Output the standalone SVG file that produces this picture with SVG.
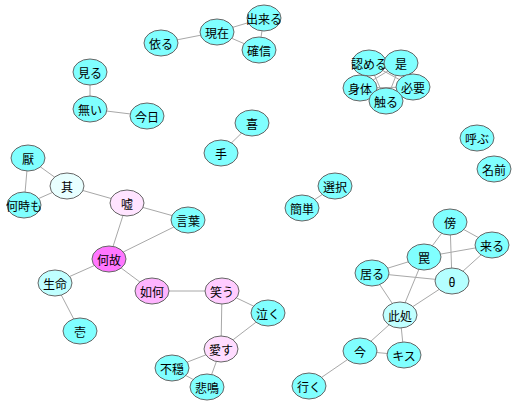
<svg xmlns="http://www.w3.org/2000/svg" width="520" height="406" viewBox="0 0 520 406">
<style>
.e line{stroke:#a8a8a8;stroke-width:1}
.n ellipse{stroke:#666;stroke-width:1;fill:#80ffff}
.n text{font-family:"Noto Sans CJK JP","DejaVu Sans",sans-serif;font-size:12px;fill:#000;text-anchor:middle;dominant-baseline:central}
</style>
<rect width="520" height="406" fill="#fff"/>
<g id="edges" class="e">
<line x1="161" y1="43" x2="217" y2="32"/>
<line x1="217" y1="32" x2="264" y2="18"/>
<line x1="217" y1="32" x2="259" y2="50"/>
<line x1="264" y1="18" x2="259" y2="50"/>
<line x1="90" y1="72" x2="90" y2="109"/>
<line x1="90" y1="109" x2="147" y2="116"/>
<line x1="369" y1="63" x2="401" y2="63"/>
<line x1="369" y1="63" x2="413" y2="87"/>
<line x1="369" y1="63" x2="386" y2="101"/>
<line x1="369" y1="63" x2="360" y2="88"/>
<line x1="401" y1="63" x2="413" y2="87"/>
<line x1="401" y1="63" x2="386" y2="101"/>
<line x1="401" y1="63" x2="360" y2="88"/>
<line x1="413" y1="87" x2="386" y2="101"/>
<line x1="413" y1="87" x2="360" y2="88"/>
<line x1="386" y1="101" x2="360" y2="88"/>
<line x1="28" y1="158" x2="67" y2="186"/>
<line x1="28" y1="158" x2="24" y2="205"/>
<line x1="67" y1="186" x2="24" y2="205"/>
<line x1="67" y1="186" x2="127" y2="203"/>
<line x1="127" y1="203" x2="188" y2="220"/>
<line x1="127" y1="203" x2="109" y2="259"/>
<line x1="109" y1="259" x2="188" y2="220"/>
<line x1="109" y1="259" x2="55" y2="283"/>
<line x1="109" y1="259" x2="152" y2="291"/>
<line x1="55" y1="283" x2="80" y2="331"/>
<line x1="152" y1="291" x2="222" y2="291"/>
<line x1="222" y1="291" x2="268" y2="313"/>
<line x1="222" y1="291" x2="221" y2="349"/>
<line x1="268" y1="313" x2="221" y2="349"/>
<line x1="221" y1="349" x2="172" y2="368"/>
<line x1="221" y1="349" x2="207" y2="387"/>
<line x1="172" y1="368" x2="207" y2="387"/>
<line x1="252" y1="123" x2="221" y2="153"/>
<line x1="335" y1="186" x2="302" y2="208"/>
<line x1="450" y1="222" x2="424" y2="257"/>
<line x1="450" y1="222" x2="492" y2="245"/>
<line x1="450" y1="222" x2="452" y2="281"/>
<line x1="424" y1="257" x2="492" y2="245"/>
<line x1="424" y1="257" x2="372" y2="273"/>
<line x1="424" y1="257" x2="400" y2="315"/>
<line x1="372" y1="273" x2="452" y2="281"/>
<line x1="492" y1="245" x2="452" y2="281"/>
<line x1="372" y1="273" x2="400" y2="315"/>
<line x1="452" y1="281" x2="400" y2="315"/>
<line x1="400" y1="315" x2="360" y2="351"/>
<line x1="400" y1="315" x2="404" y2="355"/>
<line x1="360" y1="351" x2="404" y2="355"/>
<line x1="360" y1="351" x2="309" y2="386"/>
</g>
<g id="n_yoru" class="n"><ellipse cx="161" cy="43" rx="17" ry="13"/><text x="161" y="43">依る</text></g>
<g id="n_genzai" class="n"><ellipse cx="217" cy="32" rx="17" ry="13"/><text x="217" y="32">現在</text></g>
<g id="n_dekiru" class="n"><ellipse cx="264" cy="18" rx="17" ry="13"/><text x="264" y="18">出来る</text></g>
<g id="n_kakushin" class="n"><ellipse cx="259" cy="50" rx="17" ry="13"/><text x="259" y="50">確信</text></g>
<g id="n_miru" class="n"><ellipse cx="90" cy="72" rx="17" ry="13"/><text x="90" y="72">見る</text></g>
<g id="n_nai" class="n"><ellipse cx="90" cy="109" rx="17" ry="13"/><text x="90" y="109">無い</text></g>
<g id="n_kyou" class="n"><ellipse cx="147" cy="116" rx="17" ry="13"/><text x="147" y="116">今日</text></g>
<g id="n_mitomeru" class="n"><ellipse cx="369" cy="63" rx="17" ry="13"/><text x="369" y="63">認める</text></g>
<g id="n_ze" class="n"><ellipse cx="401" cy="63" rx="17" ry="13"/><text x="401" y="63">是</text></g>
<g id="n_shintai" class="n"><ellipse cx="360" cy="88" rx="17" ry="13"/><text x="360" y="88">身体</text></g>
<g id="n_hitsuyou" class="n"><ellipse cx="413" cy="87" rx="17" ry="13"/><text x="413" y="87">必要</text></g>
<g id="n_sawaru" class="n"><ellipse cx="386" cy="101" rx="17" ry="13"/><text x="386" y="101">触る</text></g>
<g id="n_yobu" class="n"><ellipse cx="477" cy="138" rx="17" ry="13"/><text x="477" y="138">呼ぶ</text></g>
<g id="n_namae" class="n"><ellipse cx="494" cy="169" rx="17" ry="13"/><text x="494" y="169">名前</text></g>
<g id="n_yorokobi" class="n"><ellipse cx="252" cy="123" rx="17" ry="13"/><text x="252" y="123">喜</text></g>
<g id="n_te" class="n"><ellipse cx="221" cy="153" rx="17" ry="13"/><text x="221" y="153">手</text></g>
<g id="n_sentaku" class="n"><ellipse cx="335" cy="186" rx="17" ry="13"/><text x="335" y="186">選択</text></g>
<g id="n_kantan" class="n"><ellipse cx="302" cy="208" rx="17" ry="13"/><text x="302" y="208">簡単</text></g>
<g id="n_iya" class="n"><ellipse cx="28" cy="158" rx="17" ry="13"/><text x="28" y="158">厭</text></g>
<g id="n_sore" class="n"><ellipse cx="67" cy="186" rx="17" ry="13" style="fill:#e8ffff"/><text x="67" y="186">其</text></g>
<g id="n_itsumo" class="n"><ellipse cx="24" cy="205" rx="17" ry="13"/><text x="24" y="205">何時も</text></g>
<g id="n_uso" class="n"><ellipse cx="127" cy="203" rx="17" ry="13" style="fill:#ffe4ff"/><text x="127" y="203">嘘</text></g>
<g id="n_kotoba" class="n"><ellipse cx="188" cy="220" rx="17" ry="13"/><text x="188" y="220">言葉</text></g>
<g id="n_naze" class="n"><ellipse cx="109" cy="259" rx="17" ry="13" style="fill:#ff77ff"/><text x="109" y="259">何故</text></g>
<g id="n_seimei" class="n"><ellipse cx="55" cy="283" rx="17" ry="13" style="fill:#c0ffff"/><text x="55" y="283">生命</text></g>
<g id="n_ichi" class="n"><ellipse cx="80" cy="331" rx="17" ry="13"/><text x="80" y="331">壱</text></g>
<g id="n_ikaga" class="n"><ellipse cx="152" cy="291" rx="17" ry="13" style="fill:#ffb4ff"/><text x="152" y="291">如何</text></g>
<g id="n_warau" class="n"><ellipse cx="222" cy="291" rx="17" ry="13" style="fill:#ffccff"/><text x="222" y="291">笑う</text></g>
<g id="n_naku" class="n"><ellipse cx="268" cy="313" rx="17" ry="13"/><text x="268" y="313">泣く</text></g>
<g id="n_aisu" class="n"><ellipse cx="221" cy="349" rx="17" ry="13" style="fill:#ffdcff"/><text x="221" y="349">愛す</text></g>
<g id="n_fuon" class="n"><ellipse cx="172" cy="368" rx="17" ry="13"/><text x="172" y="368">不穏</text></g>
<g id="n_himei" class="n"><ellipse cx="207" cy="387" rx="17" ry="13"/><text x="207" y="387">悲鳴</text></g>
<g id="n_soba" class="n"><ellipse cx="450" cy="222" rx="17" ry="13"/><text x="450" y="222">傍</text></g>
<g id="n_kuru" class="n"><ellipse cx="492" cy="245" rx="17" ry="13"/><text x="492" y="245">来る</text></g>
<g id="n_wana" class="n"><ellipse cx="424" cy="257" rx="17" ry="13"/><text x="424" y="257">罠</text></g>
<g id="n_iru" class="n"><ellipse cx="372" cy="273" rx="17" ry="13"/><text x="372" y="273">居る</text></g>
<g id="n_theta" class="n"><ellipse cx="452" cy="281" rx="17" ry="13" style="fill:#b4ffff"/><text x="452" y="281">θ</text></g>
<g id="n_koko" class="n"><ellipse cx="400" cy="315" rx="17" ry="13" style="fill:#c0ffff"/><text x="400" y="315">此処</text></g>
<g id="n_ima" class="n"><ellipse cx="360" cy="351" rx="17" ry="13"/><text x="360" y="351">今</text></g>
<g id="n_kisu" class="n"><ellipse cx="404" cy="355" rx="17" ry="13"/><text x="404" y="355">キス</text></g>
<g id="n_iku" class="n"><ellipse cx="309" cy="386" rx="17" ry="13"/><text x="309" y="386">行く</text></g>
</svg>
